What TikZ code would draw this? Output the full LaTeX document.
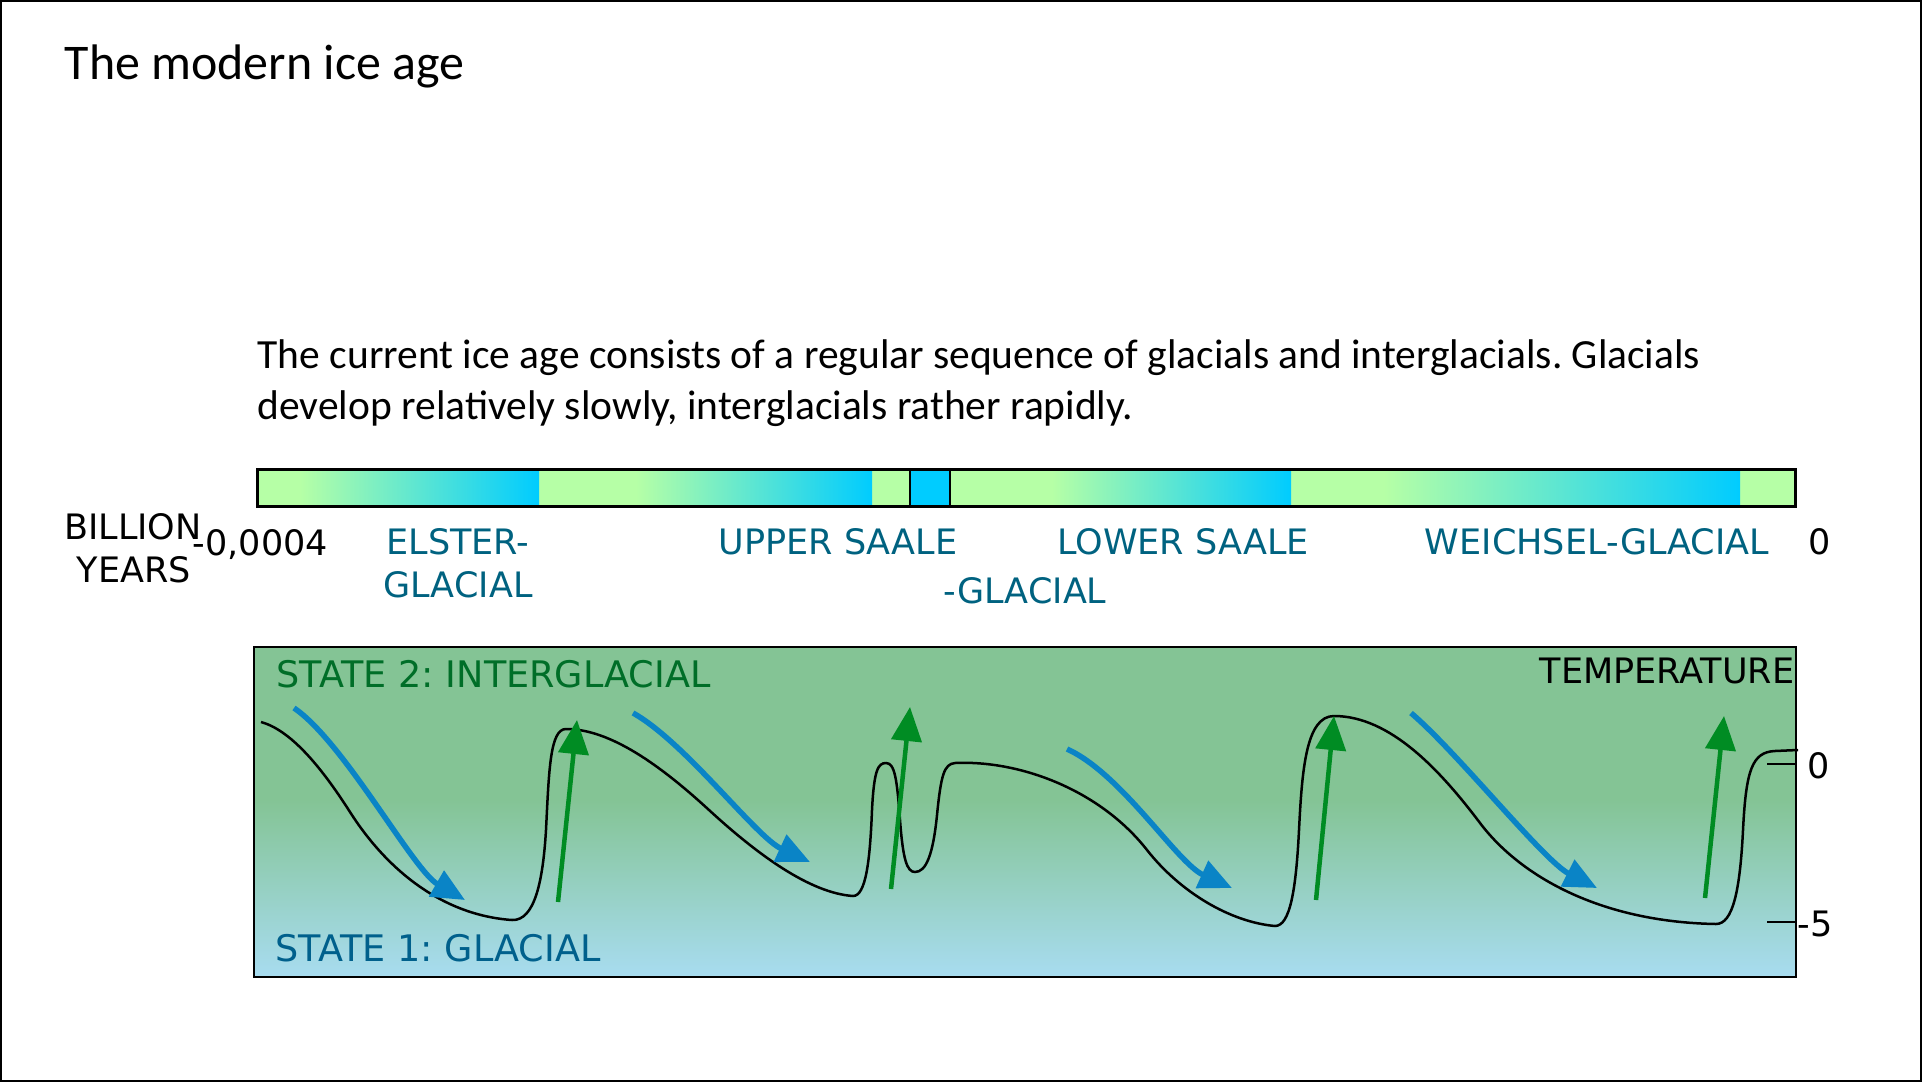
\documentclass[tikz,border=0pt]{standalone}
\usepackage{fontspec}
\setmainfont{Carlito}
\newfontfamily\labelfont{DejaVu Sans}
\usetikzlibrary{arrows.meta}
\frenchspacing
\definecolor{bargreen}{RGB}{182,255,166}
\definecolor{barcyan}{RGB}{0,204,255}
\definecolor{glacialteal}{RGB}{0,98,128}
\definecolor{statewarm}{RGB}{0,110,40}
\definecolor{statecold}{RGB}{0,96,140}
\definecolor{boxgreen}{RGB}{132,196,149}
\definecolor{boxblue}{RGB}{168,220,240}
\definecolor{coolblue}{RGB}{10,132,198}
\definecolor{warmgreen}{RGB}{0,140,35}
\tikzstyle{coolarrow} = [line width=0.055cm,coolblue,-{Triangle[length=0.33cm,width=0.29cm]}]
\tikzstyle{warmarrow} = [line width=0.045cm,warmgreen,-{Triangle[length=0.34cm,width=0.30cm]}]
\tikzstyle{axislabel} = [inner sep=0,anchor=base,font=\labelfont\fontsize{9.96}{12}\selectfont]
\tikzstyle{periodlabel} = [axislabel,text=glacialteal]
\tikzstyle{statelabel} = [axislabel,anchor=base west,font=\labelfont\fontsize{10.4}{12}\selectfont]

\begin{document}
\begin{tikzpicture}[x=0.01cm,y=-0.01cm]
\useasboundingbox (0,0) rectangle (1922,1082);
\draw[line width=0.02cm] (1,1) rectangle (1921,1081);
% heading and text
\node[anchor=base west,inner sep=0,font=\fontsize{14.2}{17}\selectfont] (title) at (64,80) {The modern ice age};
\node[anchor=base west,inner sep=0,font=\fontsize{11.8}{14.5}\selectfont] (introa) at (257,368)
    {The current ice age consists of a regular sequence of glacials and interglacials. Glacials};
\node[anchor=base west,inner sep=0,font=\fontsize{11.8}{14.5}\selectfont] (introb) at (257,419)
    {develop relatively slowly, interglacials rather rapidly.};
% time bar
\fill[bargreen] (257,469) rectangle (1795,506);
\shade[left color=bargreen,right color=barcyan] (300,469) rectangle (539,506);
\shade[left color=bargreen,right color=barcyan] (636,469) rectangle (872,506);
\fill[barcyan] (910,469) rectangle (950,506);
\shade[left color=bargreen,right color=barcyan] (1052,469) rectangle (1291,506);
\shade[left color=bargreen,right color=barcyan] (1384,469) rectangle (1740,506);
\draw[line width=0.012cm] (910,469) -- (910,506) (950,469) -- (950,506);
\draw[line width=0.03cm] (257,469) rectangle (1795,506);
% labels under the bar
\node[axislabel] (billion) at (133,539) {BILLION};
\node[axislabel] (years) at (134,582) {YEARS};
\node[axislabel,anchor=base west] (start) at (192,555) {-0,0004};
\node[periodlabel] (elster) at (458,554) {ELSTER-};
\node[periodlabel] (elsterb) at (458,597) {GLACIAL};
\node[periodlabel] (upper) at (838,554) {UPPER SAALE};
\node[periodlabel] (saaleb) at (1025,603) {-GLACIAL};
\node[periodlabel] (lower) at (1183,554) {LOWER SAALE};
\node[periodlabel] (weichsel) at (1597,554) {WEICHSEL-GLACIAL};
\node[axislabel] (now) at (1820,554) {0};
% temperature panel
\fill[boxgreen] (254,647) rectangle (1796,802);
\shade[top color=boxgreen,bottom color=boxblue] (254,800) rectangle (1796,977);
\draw[line width=0.015cm] (254,647) rectangle (1796,977);
\node[statelabel,text=statewarm] (warm) at (276,687) {STATE 2: INTERGLACIAL};
\node[statelabel,text=statecold] (cold) at (275,961) {STATE 1: GLACIAL};
\node[axislabel,anchor=base east] (temp) at (1795,683) {TEMPERATURE};
\draw[line width=0.012cm] (1767,764) -- (1796,764) (1767,922) -- (1796,922);
\node[axislabel,anchor=base west] (tzero) at (1807,778) {0};
\node[axislabel,anchor=base west] (tfive) at (1797,936) {-5};
% temperature curve
\draw[line width=0.025cm] (261,722) .. controls (290,730) and (320,765) .. (350,812)
    .. controls (385,867) and (440,915) .. (512,920)
    .. controls (535,921) and (543,880) .. (546,830)
    .. controls (549,770) and (550,729) .. (566,729)
    .. controls (610,729) and (660,765) .. (709,810)
    .. controls (758,855) and (810,893) .. (853,896)
    .. controls (866,896) and (870,860) .. (872,810)
    .. controls (874,770) and (878,763) .. (886,763)
    .. controls (895,763) and (897,780) .. (900,820)
    .. controls (903,860) and (907,872) .. (915,872)
    .. controls (926,872) and (933,855) .. (937,815)
    .. controls (941,775) and (944,764) .. (955,763)
    .. controls (1020,760) and (1100,790) .. (1147,850)
    .. controls (1180,892) and (1230,922) .. (1275,926)
    .. controls (1290,926) and (1296,890) .. (1299,830)
    .. controls (1302,770) and (1306,716) .. (1334,716)
    .. controls (1390,716) and (1440,770) .. (1480,823)
    .. controls (1520,876) and (1600,922) .. (1716,924)
    .. controls (1733,924) and (1740,890) .. (1743,830)
    .. controls (1746,770) and (1752,752) .. (1775,751) -- (1798,750);
% cooling and warming
\draw[coolarrow] (294,708) .. controls (344,742) and (413,870) .. (465,900);
\draw[coolarrow] (633,713) .. controls (685,742) and (756,837) .. (810,862);
\draw[coolarrow] (1067,749) .. controls (1122,774) and (1177,863) .. (1232,888);
\draw[coolarrow] (1411,713) .. controls (1457,752) and (1544,861) .. (1597,888);
\draw[warmarrow] (558,902) -- (577,720);
\draw[warmarrow] (891,889) -- (910,707);
\draw[warmarrow] (1316,900) -- (1334,716);
\draw[warmarrow] (1705,898) -- (1724,716);
\end{tikzpicture}
\end{document}
